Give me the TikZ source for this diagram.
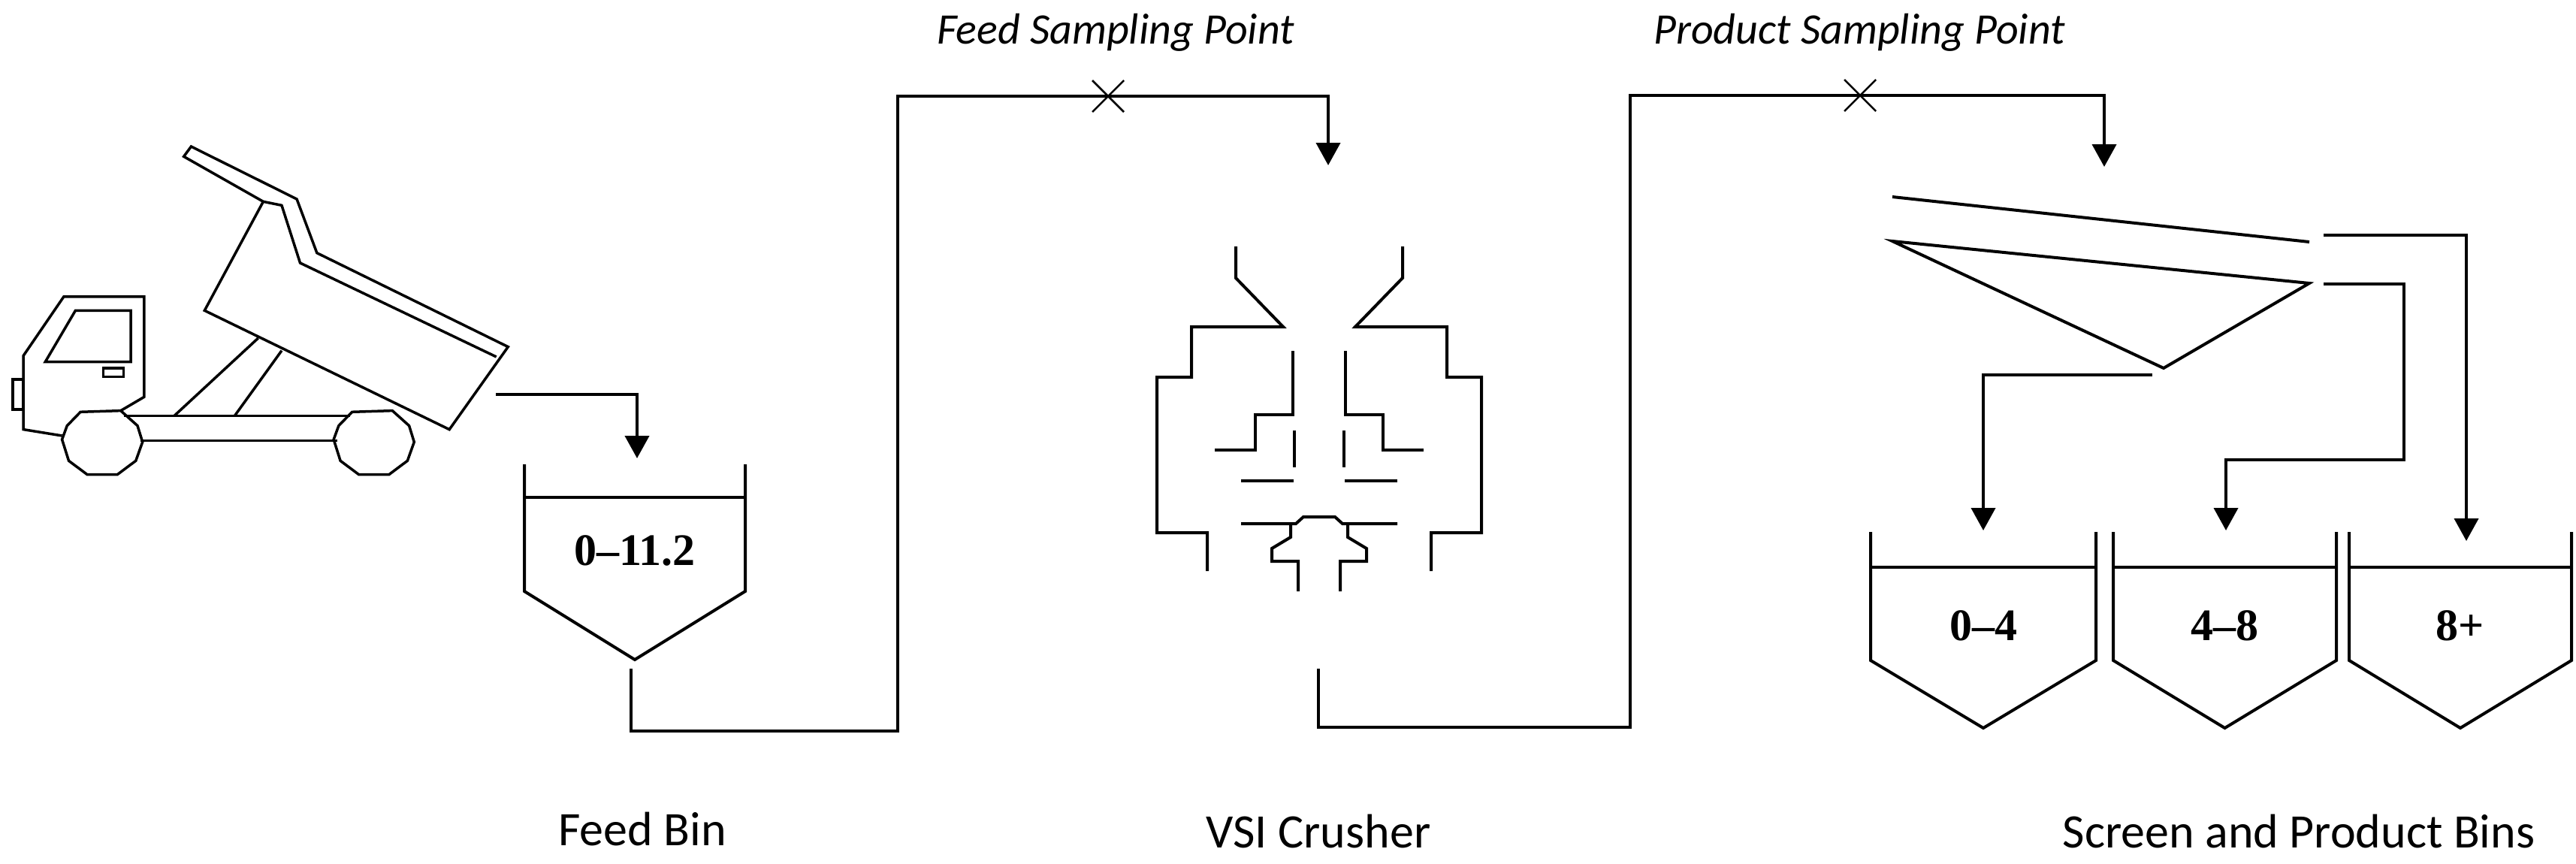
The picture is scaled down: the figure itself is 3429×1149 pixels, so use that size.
\documentclass[tikz,border=0pt]{standalone}
\usepackage{fontspec}
\setmainfont{Carlito}
\newfontfamily\numfont{Liberation Serif}
\usetikzlibrary{arrows.meta,calc}
\begin{document}
\begin{tikzpicture}[x=1pt,y=-1pt,line join=miter,
  ln/.style={line width=4pt},
  flow/.style={line width=4pt,-{Triangle[width=32pt,length=30pt]}},
  lbl/.style={font=\fontsize{64}{70}\selectfont,anchor=base},
  sp/.style={font=\fontsize{58}{64}\selectfont\itshape},
  num/.style={font=\fontsize{60}{66}\selectfont\numfont\bfseries}]
\useasboundingbox (0,0) rectangle (3429,1149);
% ---------- truck ----------
\begin{scope}[shift={(0,180)},xscale=0.4464,yscale=0.3333,ln,line width=3.5pt]
  \draw (570,45) -- (885,255) -- (945,470) -- (1515,845) -- (1340,1175) -- (610,700) -- (785,265) -- (548,85) -- cycle;
  \draw (785,265) -- (840,280) -- (895,510) -- (1480,885);
  \draw (770,810) -- (520,1120);
  \draw (840,860) -- (700,1120);
  \draw (370,1120) -- (1045,1120);
  \draw (420,1220) -- (1005,1220);
  \draw (185,1200) -- (70,1175) -- (70,880) -- (190,645) -- (430,645) -- (430,1045) -- (360,1100);
  \draw (135,905) -- (225,700) -- (390,700) -- (390,905) -- cycle;
  \draw (308,930) rectangle (368,965);
  \draw (38,975) rectangle (68,1095);
  \foreach \cx in {305,1115}{
    \draw (\cx-65,1105) -- (\cx+55,1100) -- (\cx+105,1160) -- (\cx+120,1225) -- (\cx+100,1300) -- (\cx+45,1355) -- (\cx-45,1355) -- (\cx-100,1300) -- (\cx-120,1215) -- (\cx-105,1160) -- cycle;}
\end{scope}
% ---------- feed bin ----------
\coordinate (truckout) at (660,525);
\coordinate (binin) at (848,610);
\draw[flow] (truckout) -| (binin);
\draw[ln] (698,618) -- (698,787) -- (845,878) -- (992,787) -- (992,618);
\draw[ln] (698,662) -- (992,662);
\node[num] (feedbin) at (845,733) {0–11.2};
\node[lbl] (feedbinlbl) at (855,1125) {Feed Bin};
% feed conveyor
\coordinate (binout) at (840,890);
\coordinate (c1) at (1195,973);
\coordinate (crin) at (1768,220);
\draw[flow] (binout) |- (c1) |- (1480,128) -| (crin);
\coordinate (fx) at (1475,128);
\draw[line width=2.5pt] ($(fx)+(-21,-21)$) -- ($(fx)+(21,21)$) ($(fx)+(-21,21)$) -- ($(fx)+(21,-21)$);
\node[sp] (fsp) at (1485,43) {Feed Sampling Point};
% ---------- VSI crusher ----------
\begin{scope}[ln]
  \foreach \s/\o in {1/0,-1/3512}{
  \begin{scope}[xshift=\o pt, xscale=\s]
    \draw (1645,328) -- (1645,370) -- (1708,435) -- (1586,435) -- (1586,502) -- (1540,502) -- (1540,709) -- (1607,709) -- (1607,760);
    \draw (1721,467) -- (1721,552) -- (1671,552) -- (1671,599) -- (1617,599);
    \draw (1723,573) -- (1723,622);
    \draw (1652,640) -- (1722,640);
    \draw (1652,697) -- (1725,697) -- (1735,688) -- (1756,688);
    \draw (1718,697) -- (1718,715) -- (1693,730) -- (1693,747) -- (1728,747) -- (1728,787);
  \end{scope}}
\end{scope}
\node[lbl] (vsilbl) at (1755,1128) {VSI Crusher};
% product conveyor
\coordinate (crout) at (1755,890);
\coordinate (c2) at (2170,968);
\coordinate (scin) at (2801,222);
\draw[flow] (crout) |- (c2) |- (2480,127) -| (scin);
\coordinate (px) at (2476,127);
\draw[line width=2.5pt] ($(px)+(-21,-21)$) -- ($(px)+(21,21)$) ($(px)+(-21,21)$) -- ($(px)+(21,-21)$);
\node[sp] (psp) at (2475,43) {Product Sampling Point};
% ---------- screen ----------
\draw[ln] (2519,262) -- (3074,322);
\draw[ln] (3074,377) -- (2519,321) -- (2880,490) -- cycle;
\coordinate (o1) at (2865,499);
\coordinate (o2) at (3093,378);
\coordinate (o3) at (3093,313);
\coordinate (b1) at (2640,706);
\coordinate (b2) at (2963,706);
\coordinate (b3) at (3283,720);
\draw[flow] (o1) -| (b1);
\draw[flow] (o2) -- (3200,378) |- (2990,612) -| (b2);
\draw[flow] (o3) -| (b3);
% product bins
\foreach \l/\r/\t [count=\i] in {2490/2790/0–4,2813/3110/4–8,3127/3423/8+}{
  \draw[ln] (\l,708) -- (\l,879) -- ({(\l+\r)/2},969) -- (\r,879) -- (\r,708);
  \draw[ln] (\l,755) -- (\r,755);
  \node[num] (pb\i) at ({(\l+\r)/2},833) {\t};
}
\node[lbl] (scrlbl) at (3060,1128) {Screen and Product Bins};
\end{tikzpicture}
\end{document}
